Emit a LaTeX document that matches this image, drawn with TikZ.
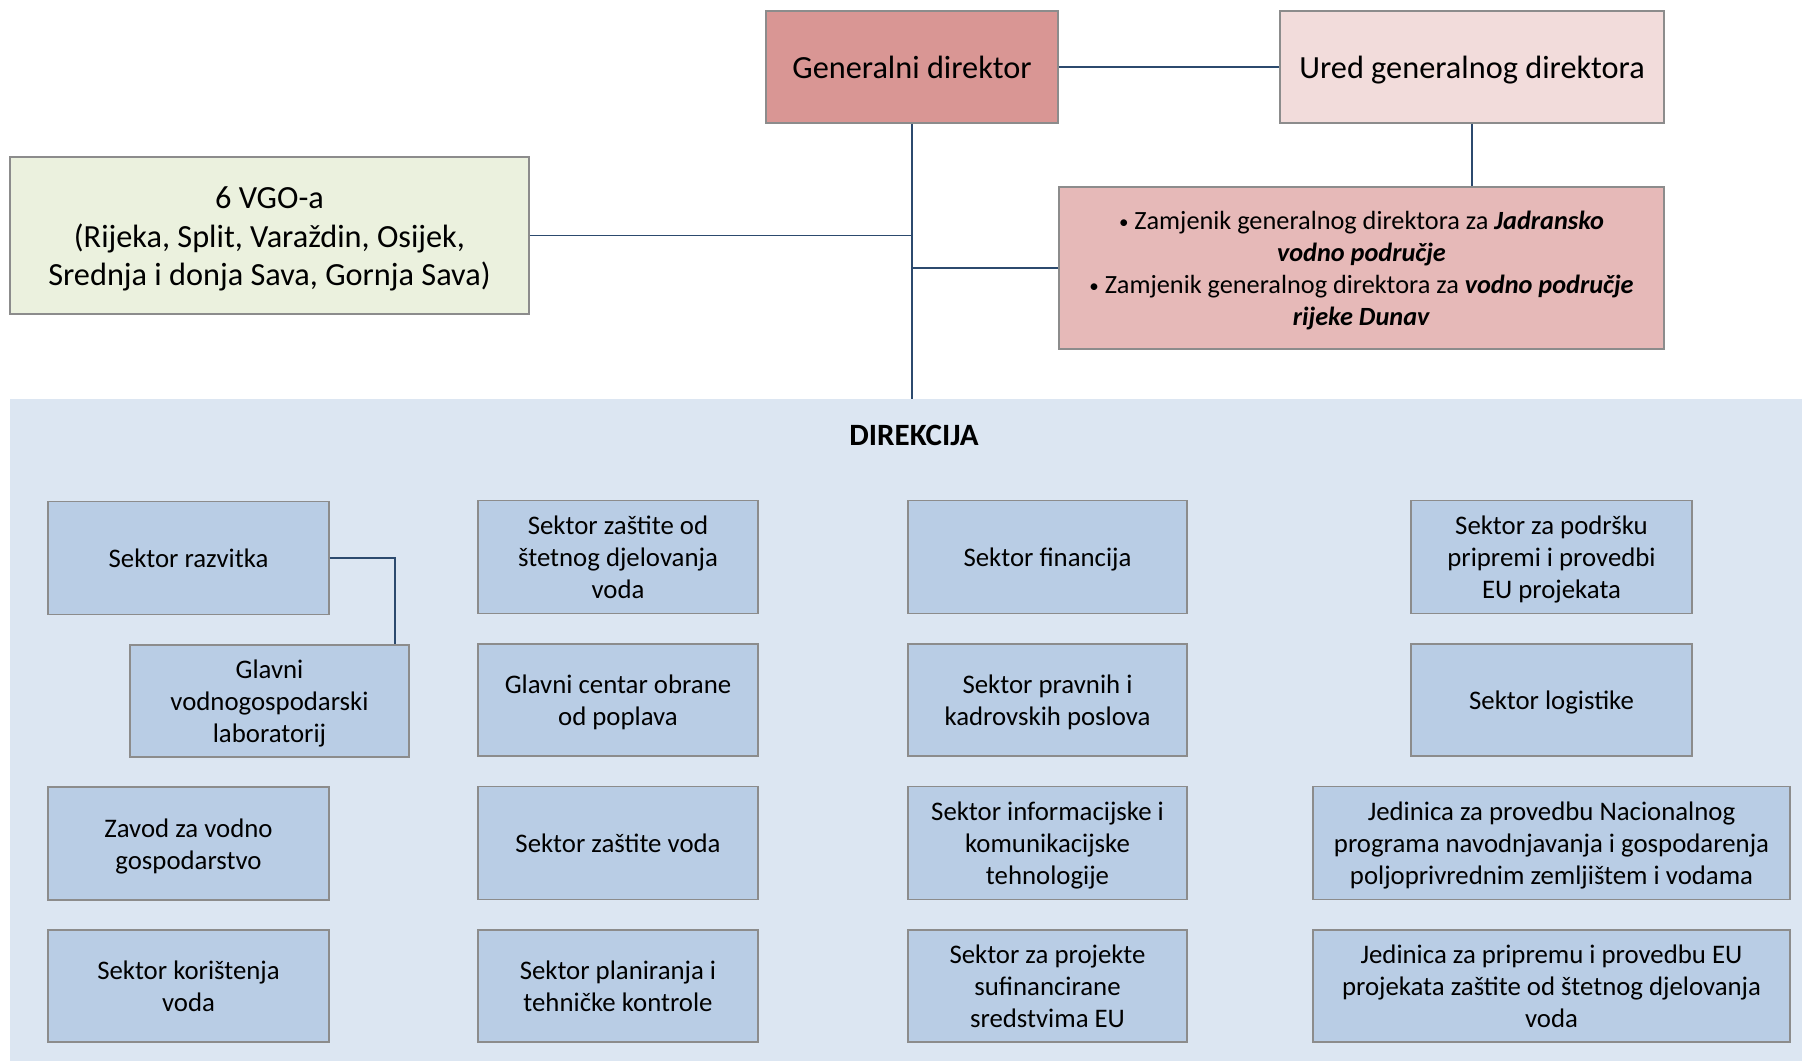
\documentclass[tikz,border=0pt]{standalone}
\usepackage{fontspec}
\setmainfont{Carlito}
\usetikzlibrary{calc}
\definecolor{gdred}{HTML}{D99694}
\definecolor{uredpink}{HTML}{F2DCDB}
\definecolor{zampink}{HTML}{E6B9B8}
\definecolor{vgogreen}{HTML}{EBF1DE}
\definecolor{dirbg}{HTML}{DCE6F2}
\definecolor{dirbox}{HTML}{B9CDE5}
\definecolor{boxedge}{HTML}{8C8C8C}
\definecolor{linkblue}{HTML}{2C4A6E}
% small bullet and fixed-height struts so every box keeps the same baseline grid
\newcommand{\smallbul}{{\fontsize{19}{19}\selectfont\raisebox{1.5pt}{•}}}
\newcommand{\topst}{\rule{0pt}{0.95em}}
\newcommand{\botst}{\rule[-0.22em]{0pt}{0.22em}}
\tikzset{
  unit/.style={draw=boxedge, line width=1.2pt, rectangle, inner sep=0pt, align=center},
  topbox/.style={unit, font=\fontsize{32.3}{38.5}\selectfont},
  secbox/.style={unit, fill=dirbox, font=\fontsize{26.8}{32.2}\selectfont},
  link/.style={draw=linkblue, line width=1.9pt}
}
\begin{document}
\begin{tikzpicture}[x=1pt,y=-1pt]
\useasboundingbox (0,0) rectangle (1802,1061);
% Direkcija background panel
\fill[dirbg] (10,399) rectangle (1802,1061);
\node[font=\fontsize{31}{36}\selectfont\bfseries] (dirtitle) at (914,435) {DIREKCIJA};

% Top management
\node[topbox, fill=gdred, minimum width=292pt, minimum height=112pt] (gd) at (912,67) {\topst Generalni direktor\botst};
\node[topbox, fill=uredpink, minimum width=384pt, minimum height=112pt] (ured) at (1472,67) {\topst Ured generalnog direktora\botst};
\node[unit, fill=zampink, minimum width=605pt, minimum height=162pt, font=\fontsize{26.3}{32}\selectfont] (zam) at (1361.5,268)
  {\topst\smallbul\ Zamjenik generalnog direktora za \textbf{\textit{Jadransko}}\\
   \textbf{\textit{vodno područje}}\\
   \smallbul\ Zamjenik generalnog direktora za \textbf{\textit{vodno područje}}\\
   \textbf{\textit{rijeke Dunav}}\botst};
\node[topbox, fill=vgogreen, minimum width=519pt, minimum height=157pt] (vgo) at (269.5,235.5)
  {\topst 6 VGO-a\\(Rijeka, Split, Varaždin, Osijek,\\Srednja i donja Sava, Gornja Sava)\botst};

% Sectors, column 1
\node[secbox, minimum width=281pt, minimum height=113pt] (raz) at (188.5,558) {\topst Sektor razvitka\botst};
\node[secbox, minimum width=279pt, minimum height=112pt] (lab) at (269.5,701) {\topst Glavni\\vodnogospodarski\\laboratorij\botst};
\node[secbox, minimum width=281pt, minimum height=113pt] (zavod) at (188.5,843.5) {\topst Zavod za vodno\\gospodarstvo\botst};
\node[secbox, minimum width=281pt, minimum height=112pt] (kor) at (188.5,986) {\topst Sektor korištenja\\voda\botst};

% Column 2
\node[secbox, minimum width=280pt, minimum height=113pt] (stet) at (618,557) {\topst Sektor zaštite od\\štetnog djelovanja\\voda\botst};
\node[secbox, minimum width=280pt, minimum height=112pt] (obrana) at (618,700) {\topst Glavni centar obrane\\od poplava\botst};
\node[secbox, minimum width=280pt, minimum height=113pt] (zastita) at (618,843) {\topst Sektor zaštite voda\botst};
\node[secbox, minimum width=280pt, minimum height=112pt] (plan) at (618,986) {\topst Sektor planiranja i\\tehničke kontrole\botst};

% Column 3
\node[secbox, minimum width=279pt, minimum height=113pt] (fin) at (1047.5,557) {\topst Sektor financija\botst};
\node[secbox, minimum width=279pt, minimum height=112pt] (prav) at (1047.5,700) {\topst Sektor pravnih i\\kadrovskih poslova\botst};
\node[secbox, minimum width=279pt, minimum height=113pt] (ikt) at (1047.5,843) {\topst Sektor informacijske i\\komunikacijske\\tehnologije\botst};
\node[secbox, minimum width=279pt, minimum height=112pt] (sufin) at (1047.5,986) {\topst Sektor za projekte\\sufinancirane\\sredstvima EU\botst};

% Column 4
\node[secbox, minimum width=281pt, minimum height=113pt] (eu) at (1551.5,557) {\topst Sektor za podršku\\pripremi i provedbi\\EU projekata\botst};
\node[secbox, minimum width=281pt, minimum height=112pt] (log) at (1551.5,700) {\topst Sektor logistike\botst};
\node[secbox, minimum width=477pt, minimum height=113pt] (navod) at (1551.5,843) {\topst Jedinica za provedbu Nacionalnog\\programa navodnjavanja i gospodarenja\\poljoprivrednim zemljištem i vodama\botst};
\node[secbox, minimum width=477pt, minimum height=112pt] (jed) at (1551.5,986) {\topst Jedinica za pripremu i provedbu EU\\projekata zaštite od štetnog djelovanja\\voda\botst};

% Connectors
\coordinate (spine) at (gd.south |- 0,399);
\draw[link] (gd.south) -- (spine);
\draw[link] (gd.east) -- (ured.west);
\draw[link] (ured.south) -- (ured.south |- zam.north);
\draw[link] (vgo.east) -- (vgo.east -| gd.south);
\draw[link] (zam.west) -- (zam.west -| gd.south);
\draw[link] (raz.east) -| ([xshift=125.5pt]lab.north);
\end{tikzpicture}
\end{document}
